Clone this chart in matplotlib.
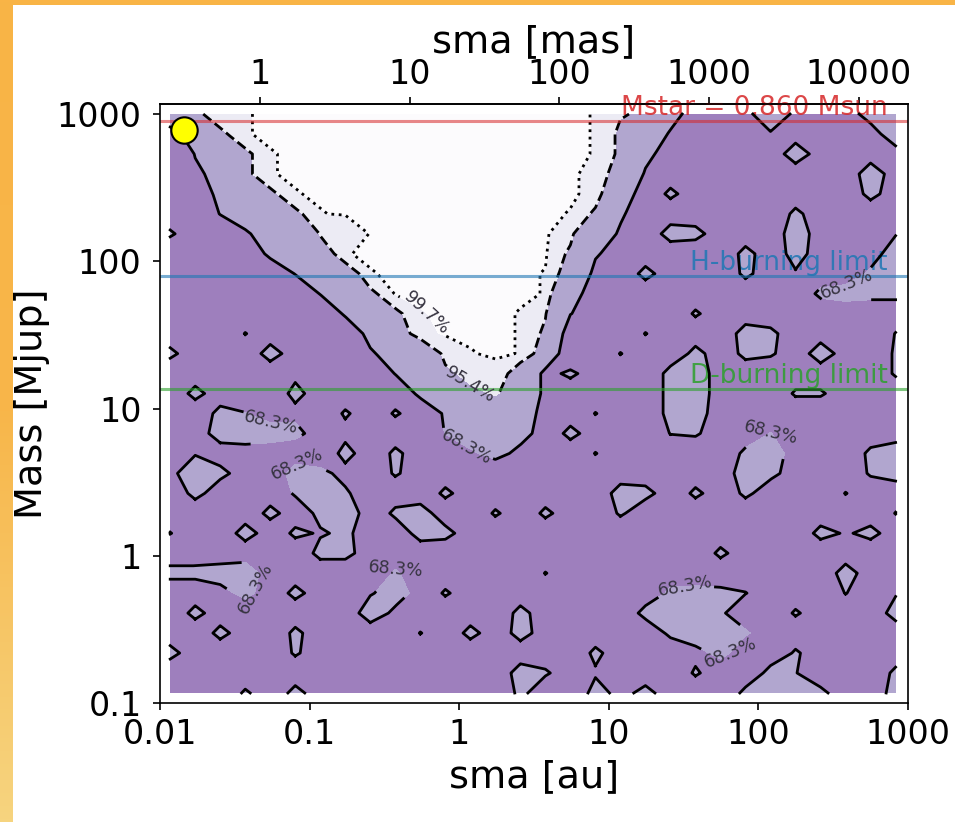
import numpy as np
import matplotlib
matplotlib.use("Agg")
import matplotlib.pyplot as plt
from matplotlib.colors import LinearSegmentedColormap
from matplotlib.patches import Rectangle
from matplotlib.path import Path
from matplotlib.ticker import FixedLocator, FuncFormatter, NullLocator

# detection map on a 30 x 30 log grid (sma in au, mass in Mjup)
SMA_AU_RANGE = (0.0117, 826.0)
MASS_MJUP_RANGE = (0.117, 1000.0)
N_SMA = 30
N_MASS = 30

# one character per grid cell -> confidence in percent
CELL_VALUES = {",": 45, ".": 55, "-": 62, "=": 66, "1": 69, "2": 71, "3": 73, "4": 75,
               "5": 78, "6": 82, "7": 87, "8": 91, "9": 94, "a": 96, "b": 97.5,
               "c": 99, "d": 99.6, "g": 100}

# rows from top (1000 Mjup) to bottom (0.117 Mjup), columns from 0.0117 au to 826 au
MAP_ROWS = [
    "69cdgggggggggggggda95..-7-..69",
    "-59dgggggggggggggd96=...=....8",
    ".179dggggggggggggd94.....6....",
    ".=39dggggggggggggc8=........6.",
    "..489dgggggggggggc6.3.......4.",
    "..1589dgggggggggd92......3....",
    "2..=56aaggggggggb5=.54...6...=",
    "....368dgggggggg92.....4.5...7",
    ".....158dggggggd8-.4...3.=..36",
    "......169ggggggd5.........3544",
    ".......269dgggda1....2........",
    "...1....48cgggd9...1...53....1",
    "3...5...=57bdgd8,.1..4.42.6..2",
    ".....-...169bc8-3...46.......2",
    ".4...4....379a8-....46...22...",
    "..41.-.2.2.2687..1..45........",
    "..6764.-...1565.4...12..1.....",
    ".=.....4.3..=4-..1.....36...36",
    "-74..53-.2.............64...25",
    ".4...262...3......54.3.3...1..",
    "....4.46.35..2.3..2..........1",
    "1..5.3=3..54..............4=4.",
    "......44..............3.......",
    "4456.....2.....1...........5..",
    "..-4.4..=6.2........3431...1.=",
    ".4......6-....4....4762..2...5",
    "..4..3....1.4.5.....3662......",
    "4....2...........3...-4..2....",
    "..............52.=...2..41...3",
    "...2.4........3..4-4...3653..5",
]

LEVELS = [68.3, 95.4, 99.7]
LEVEL_LABELS = ["68.3%", "95.4%", "99.7%"]
LEVEL_STYLES = ["solid", "dashed", "dotted"]
FILL_LEVELS = [0, 68.3, 95.4, 99.7, 100.5]
FILL_COLORS = ["#9e7fbd", "#b1a6cf", "#ecebf4", "#fcfbfd"]

# where the contour labels sit (au, Mjup)
LABEL_POS = [
    (0.661, 50.5),
    (1.186, 14.4),
    (1.186, 6.1),
    (0.0547, 7.73),
    (0.0829, 4.13),
    (0.0484, 0.585),
    (0.392, 1.094),
    (120.0, 7.37),
    (32.4, 0.585),
    (75.5, 0.173),
    (379.0, 74.7),
]

MSTAR_MSUN = 0.860
MSTAR_MJUP = MSTAR_MSUN * 1047.6
H_BURNING = 80.0
D_BURNING = 13.6
DIST_PC = 46.7
COMPANION = (0.0144, 780.0)

AU_TICKS = [0.01, 0.1, 1, 10, 100, 1000]
MAS_TICKS = [1, 10, 100, 1000, 10000]
MASS_TICKS = [0.1, 1, 10, 100, 1000]

FS = 24          # tick labels
FS_LABEL = 27.5  # axis titles
FS_NOTE = 19     # limit annotations
LABEL_GAP = 30   # px cut out of a line around each label


def plain(v, pos):
    return f"{v:g}"


def components(path):
    verts, codes = path.vertices, path.codes
    starts = np.flatnonzero(codes == Path.MOVETO)
    ends = np.append(starts[1:], len(codes))
    for s, e in zip(starts, ends):
        v = verts[s:e].copy()
        if codes[e - 1] == Path.CLOSEPOLY:
            v[-1] = v[0]
        yield v


fig = plt.figure(figsize=(9.55, 8.22), dpi=100)

# screenshot frame: orange gradient behind a white sheet
bg = fig.add_axes([0, 0, 1, 1], zorder=-10)
bg.axis("off")
grad = np.linspace(0, 1, 256).reshape(-1, 1)
bg.imshow(grad, extent=[0, 1, 0, 1], aspect="auto", origin="lower",
          cmap=LinearSegmentedColormap.from_list("frame", ["#f6d47f", "#f8b64a", "#f9b446"]))
fig.add_artist(Rectangle((13 / 955, 0), 1, (822 - 5) / 822, transform=fig.transFigure,
                         facecolor="white", edgecolor="none", zorder=-5))

ax = fig.add_axes([160 / 955, 1 - 703 / 822, (908 - 160) / 955, (703 - 104) / 822])
ax.set_xscale("log")
ax.set_yscale("log")
ax.set_xlim(0.01, 1000)
ax.set_ylim(0.1, 1170)

sma = np.logspace(np.log10(SMA_AU_RANGE[0]), np.log10(SMA_AU_RANGE[1]), N_SMA)
mass = np.logspace(np.log10(MASS_MJUP_RANGE[0]), np.log10(MASS_MJUP_RANGE[1]), N_MASS)
X, Y = np.meshgrid(sma, mass)
Z = np.array([[CELL_VALUES[ch] for ch in row] for row in MAP_ROWS[::-1]], dtype=float)

ax.contourf(X, Y, Z, levels=FILL_LEVELS, colors=FILL_COLORS, zorder=1)

# contour set used for the labels only; lines are drawn below with gaps at the labels
cs = ax.contour(X, Y, Z, levels=LEVELS, colors="k", linewidths=0)
ax.clabel(cs, fmt=dict(zip(LEVELS, LEVEL_LABELS)), fontsize=12.5, inline=False,
          manual=LABEL_POS, colors="#363340")
labels = [(t.get_text(), np.array(ax.transData.transform(t.get_position())))
          for t in cs.labelTexts]

to_disp = ax.transData.transform
from_disp = ax.transData.inverted().transform
for lev_text, path, ls in zip(LEVEL_LABELS, cs.get_paths(), LEVEL_STYLES):
    centers = [c for s, c in labels if s == lev_text]
    for verts in components(path):
        d = to_disp(verts)
        pts = [d[:1]]
        for a, b in zip(d[:-1], d[1:]):
            n = max(int(np.hypot(*(b - a))), 1)
            pts.append(np.linspace(a, b, n + 1)[1:])
        pts = np.concatenate(pts)
        for c in centers:
            pts[np.hypot(*(pts - c).T) < LABEL_GAP] = np.nan
        xy = from_disp(pts)
        ax.plot(xy[:, 0], xy[:, 1], color="k", ls=ls, lw=2.0, zorder=2)

ax.axhline(MSTAR_MJUP, color="tab:red", alpha=0.55, lw=2.2, zorder=2.5)
ax.axhline(H_BURNING, color="tab:blue", alpha=0.6, lw=2.2, zorder=2.5)
ax.axhline(D_BURNING, color="tab:green", alpha=0.6, lw=2.2, zorder=2.5)
ax.text(735, MSTAR_MJUP, f"Mstar = {MSTAR_MSUN:.3f} Msun", color="tab:red", alpha=0.85,
        fontsize=FS_NOTE, ha="right", va="bottom", zorder=1.5)
ax.text(735, H_BURNING, "H-burning limit", color="tab:blue", alpha=0.85,
        fontsize=FS_NOTE, ha="right", va="bottom", zorder=1.5)
ax.text(735, D_BURNING, "D-burning limit", color="tab:green", alpha=0.85,
        fontsize=FS_NOTE, ha="right", va="bottom", zorder=1.5)

ax.plot(*COMPANION, "o", ms=19, mfc="#ffff00", mec="k", mew=1.5, zorder=5)

ax.xaxis.set_major_locator(FixedLocator(AU_TICKS))
ax.yaxis.set_major_locator(FixedLocator(MASS_TICKS))
for axis in (ax.xaxis, ax.yaxis):
    axis.set_minor_locator(NullLocator())
    axis.set_major_formatter(FuncFormatter(plain))
ax.tick_params(labelsize=FS, length=5.25, width=1.2)
ax.tick_params(axis="x", pad=5.5)
ax.tick_params(axis="y", pad=8)
for sp in ax.spines.values():
    sp.set_linewidth(1.2)
ax.set_xlabel("sma [au]", fontsize=FS_LABEL, labelpad=6)
ax.set_ylabel("Mass [Mjup]", fontsize=FS_LABEL, labelpad=5)

sec = ax.secondary_xaxis("top", functions=(lambda a: a / DIST_PC * 1000.0,
                                           lambda m: m * DIST_PC / 1000.0))
sec.xaxis.set_major_locator(FixedLocator(MAS_TICKS))
sec.xaxis.set_minor_locator(NullLocator())
sec.xaxis.set_major_formatter(FuncFormatter(plain))
sec.tick_params(labelsize=FS, length=5.25, width=1.2, pad=4.2)
sec.spines["top"].set_linewidth(1.2)
sec.set_xlabel("sma [mas]", fontsize=FS_LABEL, labelpad=4)

fig.savefig("out.png", dpi=100)
